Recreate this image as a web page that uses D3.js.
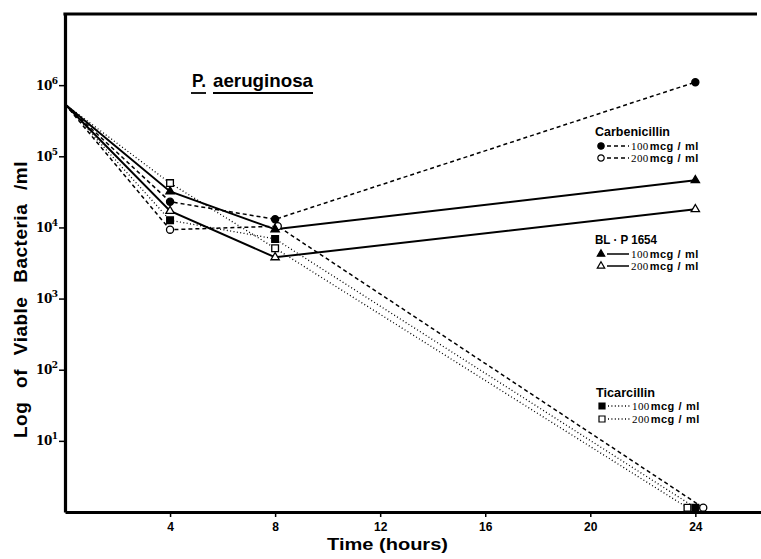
<!DOCTYPE html>
<html>
<head>
<meta charset="utf-8">
<script src="https://cdn.jsdelivr.net/npm/d3@7.9.0/dist/d3.min.js"></script>
<style>
  body { margin: 0; background: #fff; }
  svg { display: block; }
</style>
</head>
<body>
<svg width="761" height="559"></svg>
<script>
// Viable counts (bacteria / ml)
const carb100 = [5.4e5, 2.3e4, 1.3e4, 1.1e6];
const carb200 = [5.4e5, 9.3e3, 1.04e4, 1.15];
const blp100 = [5.4e5, 3.2e4, 9.4e3, 4.6e4];
const blp200 = [5.4e5, 1.7e4, 3.8e3, 1.8e4];
const tic100 = [5.4e5, 1.26e4, 6.9e3, 1.15];
const tic200 = [5.4e5, 4.2e4, 5.1e3, 1.15];

// sampling times (hours); a few points are drawn slightly offset in the original
const times = [0, 4, 8, 24];
const timesCarb200 = [0, 4, 8.1, 24.3];
const timesTic200 = [0, 4, 8, 23.7];

const xTicks = [4, 8, 12, 16, 20, 24];
const yTicks = [1e1, 1e2, 1e3, 1e4, 1e5, 1e6];

const series = [
  { values: carb100, t: times, sym: 'circle', filled: true, style: 'dash' },
  { values: carb200, t: timesCarb200, sym: 'circle', filled: false, style: 'dash' },
  { values: blp100, t: times, sym: 'triangle', filled: true, style: 'solid' },
  { values: blp200, t: times, sym: 'triangle', filled: false, style: 'solid' },
  { values: tic100, t: times, sym: 'square', filled: true, style: 'dot' },
  { values: tic200, t: timesTic200, sym: 'square', filled: false, style: 'dot' },
];

const svg = d3.select('svg');
const x = d3.scaleLinear().domain([0, 26.5]).range([65, 761]);
const y = d3.scaleLog().domain([1, 1e7]).range([512, 14]);

const dashes = { dash: '4,3', solid: null, dot: '1,2.4' };
const widths = { dash: 1.5, solid: 2, dot: 1.3 };
const symbols = { circle: d3.symbolCircle, triangle: d3.symbolTriangle, square: d3.symbolSquare };
const sizes = { circle: 40, triangle: 30, square: 45 };

// lines
const line = d3.line().x(d => x(d[0])).y(d => y(d[1]));
series.forEach(s => {
  svg.append('path')
    .attr('d', line(s.t.map((t, i) => [t, s.values[i]])))
    .attr('fill', 'none')
    .attr('stroke', '#000')
    .attr('stroke-width', widths[s.style])
    .attr('stroke-dasharray', dashes[s.style]);
});

// markers (not at the common starting point)
series.forEach(s => {
  s.t.forEach((t, i) => {
    if (i === 0) return;
    svg.append('path')
      .attr('d', d3.symbol().type(symbols[s.sym]).size(sizes[s.sym])())
      .attr('transform', `translate(${x(t)},${y(s.values[i])})`)
      .attr('fill', s.filled ? '#000' : '#fff')
      .attr('stroke', '#000')
      .attr('stroke-width', 1.3);
  });
});

// axes
const xAxis = svg.append('g')
  .attr('transform', 'translate(0,512)')
  .call(d3.axisBottom(x).tickValues(xTicks).tickSize(5).tickSizeOuter(0));
xAxis.select('.domain').attr('stroke-width', 3.2);
xAxis.selectAll('.tick line').attr('stroke-width', 1.5);
xAxis.selectAll('.tick text')
  .attr('y', 10)
  .attr('font-family', 'Liberation Sans, Arial, sans-serif')
  .attr('font-weight', 'bold')
  .attr('font-size', 12);

const yAxis = svg.append('g')
  .attr('transform', 'translate(65,0)')
  .call(d3.axisLeft(y).tickValues(yTicks).tickSize(6).tickSizeOuter(0).tickFormat(''));
yAxis.select('.domain').attr('stroke-width', 3.2);
yAxis.selectAll('.tick line').attr('stroke-width', 1.5);
yAxis.selectAll('.tick').each(function (d) {
  const txt = d3.select(this).append('text')
    .attr('x', -7).attr('y', 4)
    .attr('text-anchor', 'end')
    .attr('fill', '#000')
    .attr('font-family', 'DejaVu Serif, serif')
    .attr('font-weight', 'bold')
    .attr('font-size', 12);
  txt.append('tspan').attr('letter-spacing', -0.5).text('10');
  txt.append('tspan').attr('dy', -6).attr('font-size', 9).text(Math.round(Math.log10(d)));
});

// top border
svg.append('line')
  .attr('x1', 63.4).attr('x2', 757)
  .attr('y1', y(1e7)).attr('y2', y(1e7))
  .attr('stroke', '#000').attr('stroke-width', 3.2);

// axis titles
svg.append('text')
  .attr('x', 327).attr('y', 550)
  .attr('font-family', 'Liberation Sans, Arial, sans-serif')
  .attr('font-weight', 'bold').attr('font-size', 16)
  .attr('textLength', 121).attr('lengthAdjust', 'spacingAndGlyphs')
  .text('Time (hours)');

svg.append('text')
  .attr('transform', 'translate(27,438) rotate(-90)')
  .attr('font-family', 'Liberation Sans, Arial, sans-serif')
  .attr('font-weight', 'bold').attr('font-size', 19)
  .attr('letter-spacing', 0.5)
  .attr('word-spacing', 8)
  .text('Log of Viable Bacteria /ml');

// organism title
const tfont = { family: 'Liberation Sans, Arial, sans-serif', size: 19 };
svg.append('text')
  .attr('x', 192).attr('y', 87)
  .attr('font-family', tfont.family).attr('font-weight', 'bold').attr('font-size', tfont.size)
  .attr('textLength', 14).attr('lengthAdjust', 'spacingAndGlyphs')
  .text('P.');
svg.append('text')
  .attr('x', 213).attr('y', 87)
  .attr('font-family', tfont.family).attr('font-weight', 'bold').attr('font-size', tfont.size)
  .attr('textLength', 100).attr('lengthAdjust', 'spacingAndGlyphs')
  .text('aeruginosa');
[[191, 206], [213, 313]].forEach(([a, b]) => {
  svg.append('line').attr('x1', a).attr('x2', b).attr('y1', 93).attr('y2', 93)
    .attr('stroke', '#000').attr('stroke-width', 1.8);
});

// legends
const legends = [
  { name: 'Carbenicillin', nameW: 75, x: 595, y: 136, rows: [
    { sym: 'circle', filled: true, style: 'dash', dose: '100', dy: 10 },
    { sym: 'circle', filled: false, style: 'dash', dose: '200', dy: 22 } ] },
  { name: 'BL · P 1654', nameW: 62, x: 595, y: 244, rows: [
    { sym: 'triangle', filled: true, style: 'solid', dose: '100', dy: 10 },
    { sym: 'triangle', filled: false, style: 'solid', dose: '200', dy: 22 } ] },
  { name: 'Ticarcillin', nameW: 59, x: 596, y: 397, rows: [
    { sym: 'square', filled: true, style: 'dot', dose: '100', dy: 9 },
    { sym: 'square', filled: false, style: 'dot', dose: '200', dy: 22 } ] },
];

legends.forEach(lg => {
  const g = svg.append('g').attr('transform', `translate(${lg.x},${lg.y})`);
  g.append('text')
    .attr('font-family', 'Liberation Sans, Arial, sans-serif')
    .attr('font-weight', 'bold').attr('font-size', 13)
    .attr('textLength', lg.nameW).attr('lengthAdjust', 'spacingAndGlyphs')
    .text(lg.name);
  lg.rows.forEach(r => {
    g.append('path')
      .attr('d', d3.symbol().type(symbols[r.sym]).size(sizes[r.sym] * 0.8)())
      .attr('transform', `translate(6,${r.dy})`)
      .attr('fill', r.filled ? '#000' : '#fff')
      .attr('stroke', '#000').attr('stroke-width', 1.2);
    g.append('line')
      .attr('x1', 12).attr('x2', 34).attr('y1', r.dy).attr('y2', r.dy)
      .attr('stroke', '#000')
      .attr('stroke-width', r.style === 'solid' ? 1.5 : 1.3)
      .attr('stroke-dasharray', dashes[r.style]);
    const t = g.append('text')
      .attr('x', 36).attr('y', r.dy + 4)
      .attr('fill', '#000')
      .attr('font-size', 11)
      .attr('letter-spacing', 0.4);
    t.append('tspan')
      .attr('font-family', 'Liberation Serif, serif')
      .text(r.dose);
    t.append('tspan')
      .attr('font-family', 'Liberation Sans, Arial, sans-serif').attr('font-weight', 'bold')
      .attr('dx', 1)
      .text('mcg');
    t.append('tspan')
      .attr('font-family', 'Liberation Sans, Arial, sans-serif').attr('font-weight', 'bold')
      .attr('dx', 4)
      .text('/');
    t.append('tspan')
      .attr('font-family', 'Liberation Sans, Arial, sans-serif').attr('font-weight', 'bold')
      .attr('dx', 4)
      .text('ml');
  });
});
</script>
</body>
</html>
